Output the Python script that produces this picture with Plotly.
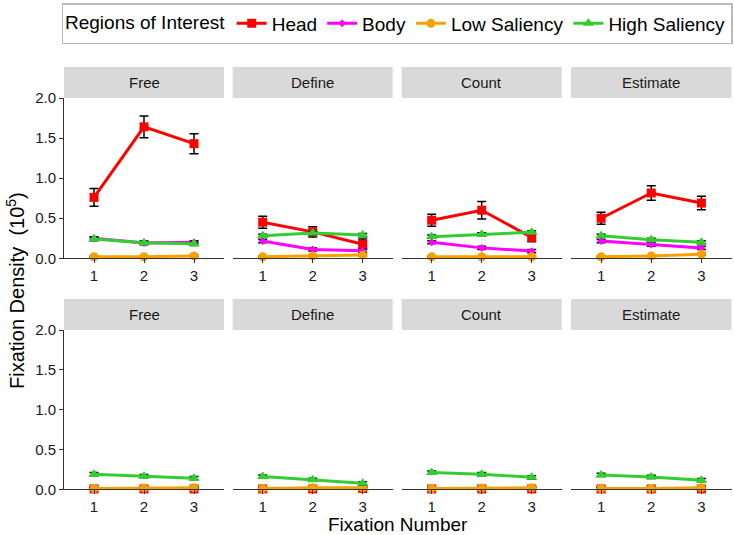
import plotly.graph_objects as go

W, H = 734, 535

fix_num = [1, 2, 3]
tasks = ["Free", "Define", "Count", "Estimate"]
series = ["Head", "Body", "Low Saliency", "High Saliency"]

# top row values (x10^5)
top_head = {"Free": [0.76, 1.64, 1.43], "Define": [0.45, 0.33, 0.175],
            "Count": [0.475, 0.60, 0.26], "Estimate": [0.50, 0.815, 0.69]}
top_head_err = {"Free": [0.11, 0.135, 0.125], "Define": [0.075, 0.065, 0.065],
                "Count": [0.075, 0.11, 0.055], "Estimate": [0.075, 0.09, 0.085]}
top_body = {"Free": [0.25, 0.19, 0.20], "Define": [0.215, 0.11, 0.095],
            "Count": [0.20, 0.13, 0.09], "Estimate": [0.215, 0.17, 0.13]}
top_low = {"Free": [0.02, 0.02, 0.03], "Define": [0.02, 0.03, 0.04],
           "Count": [0.02, 0.02, 0.02], "Estimate": [0.02, 0.03, 0.05]}
top_high = {"Free": [0.24, 0.195, 0.18], "Define": [0.28, 0.315, 0.29],
            "Count": [0.27, 0.30, 0.325], "Estimate": [0.28, 0.23, 0.20]}

# bottom row values
bot_head = {"Free": [0.005, 0.005, 0.005], "Define": [0.005, 0.005, 0.01],
            "Count": [0.005, 0.005, 0.005], "Estimate": [0.005, 0.005, 0.005]}
bot_body = {"Free": [0.005, 0.005, 0.005], "Define": [0.005, 0.005, 0.01],
            "Count": [0.005, 0.005, 0.005], "Estimate": [0.005, 0.005, 0.005]}
bot_low = {"Free": [0.01, 0.015, 0.02], "Define": [0.01, 0.02, 0.02],
           "Count": [0.01, 0.015, 0.02], "Estimate": [0.01, 0.01, 0.02]}
bot_high = {"Free": [0.19, 0.165, 0.14], "Define": [0.16, 0.12, 0.075],
            "Count": [0.21, 0.19, 0.15], "Estimate": [0.18, 0.155, 0.115]}
small_err = [0.02, 0.02, 0.02]

colors = {"Head": "#FF0000", "Body": "#FF00FF", "Low Saliency": "#F5A100", "High Saliency": "#33CC33"}
symbols = {"Head": "square", "Body": "diamond", "Low Saliency": "circle", "High Saliency": "triangle-up"}
msize = {"Head": 9, "Body": 6, "Low Saliency": 9, "High Saliency": 10}

FONT = "Liberation Sans, Arial, sans-serif"

col_px = [(64, 224), (232.7, 392.7), (401.7, 561.7), (571, 731.5)]
row_px = [(98, 258.3), (330, 489.3)]   # plot area top/bottom in pixels
strip_px = [(67, 98), (299, 330)]

def px_x(v):
    return v / W

def px_y(v):
    return 1 - v / H

fig = go.Figure()
layout = {}
shapes = []
annotations = []

idx = 0
for r in range(2):
    data = [(top_head, top_body, top_low, top_high), (bot_head, bot_body, bot_low, bot_high)][r]
    for c, task in enumerate(tasks):
        idx += 1
        xa = "x" if idx == 1 else f"x{idx}"
        ya = "y" if idx == 1 else f"y{idx}"
        xkey = "xaxis" if idx == 1 else f"xaxis{idx}"
        ykey = "yaxis" if idx == 1 else f"yaxis{idx}"
        x0, x1 = col_px[c]
        yt, yb = row_px[r]
        layout[xkey] = dict(domain=[px_x(x0), px_x(x1)], anchor=ya, range=[0.4, 3.6],
                            tickvals=fix_num, ticktext=[str(v) for v in fix_num],
                            showline=True, linecolor="#333333", linewidth=1,
                            ticks="outside", ticklen=4, tickcolor="#333333",
                            showgrid=False, zeroline=False, automargin=False,
                            tickfont=dict(family=FONT, size=15, color="#1a1a1a"))
        layout[ykey] = dict(domain=[px_y(yb), px_y(yt)], anchor=xa, range=[0, 2],
                            tickvals=[0, 0.5, 1, 1.5, 2],
                            ticktext=["0.0", "0.5", "1.0", "1.5", "2.0"],
                            showticklabels=(c == 0), ticks="outside" if c == 0 else "",
                            ticklen=4, tickcolor="#333333",
                            showline=(c == 0), linecolor="#333333", linewidth=1,
                            showgrid=False, zeroline=False, automargin=False,
                            tickfont=dict(family=FONT, size=15, color="#1a1a1a"))
        # strip
        sy0, sy1 = strip_px[r]
        shapes.append(dict(type="rect", xref="paper", yref="paper",
                           x0=px_x(x0), x1=px_x(x1), y0=px_y(sy1), y1=px_y(sy0),
                           fillcolor="#D9D9D9", line=dict(width=0), layer="below"))
        annotations.append(dict(text=task, xref="paper", yref="paper",
                                x=px_x((x0 + x1) / 2), y=px_y((sy0 + sy1) / 2),
                                xanchor="center", yanchor="middle", showarrow=False,
                                font=dict(family=FONT, size=15, color="#1a1a1a")))
        head, body, low, high = data
        vals = {"Head": head[task], "Body": body[task], "Low Saliency": low[task], "High Saliency": high[task]}
        errs = {"Head": top_head_err[task] if r == 0 else small_err,
                "Body": small_err, "Low Saliency": [0.01, 0.01, 0.01], "High Saliency": small_err}
        for s in series:
            fig.add_trace(go.Scatter(
                x=fix_num, y=vals[s], mode="lines+markers", name=s,
                legendgroup=s, showlegend=(idx == 1),
                line=dict(color=colors[s], width=3),
                marker=dict(symbol=symbols[s], size=msize[s], color=colors[s]),
                error_y=dict(type="data", array=errs[s], color="black", thickness=1.5, width=4.5),
                cliponaxis=False, xaxis=xa, yaxis=ya))

annotations.append(dict(text="Fixation Number", xref="paper", yref="paper",
                        x=px_x(398), y=px_y(524), xanchor="center", yanchor="middle",
                        borderpad=0, showarrow=False,
                        font=dict(family=FONT, size=19, color="black")))
annotations.append(dict(text="Fixation Density  (10<sup>5</sup>)", xref="paper", yref="paper",
                        x=px_x(15), y=px_y(291), xanchor="center", yanchor="middle",
                        textangle=-90, showarrow=False,
                        font=dict(family=FONT, size=20, color="black")))

fig.update_layout(**layout)
fig.update_layout(
    width=W, height=H, margin=dict(l=0, r=0, t=0, b=0, autoexpand=False),
    paper_bgcolor="white", plot_bgcolor="white",
    shapes=shapes, annotations=annotations,
    legend=dict(orientation="h", x=px_x(397), xanchor="center", y=px_y(3), yanchor="top",
                bordercolor="#BBBBBB", borderwidth=1.5, bgcolor="white",
                font=dict(family=FONT, size=19, color="black"),
                title=dict(text="Regions of Interest", side="left",
                           font=dict(family=FONT, size=19, color="black")),
                itemwidth=30, tracegroupgap=0),
)

fig.write_html("out.html", config={"displayModeBar": False},
               post_script="document.body.style.margin='0';")
